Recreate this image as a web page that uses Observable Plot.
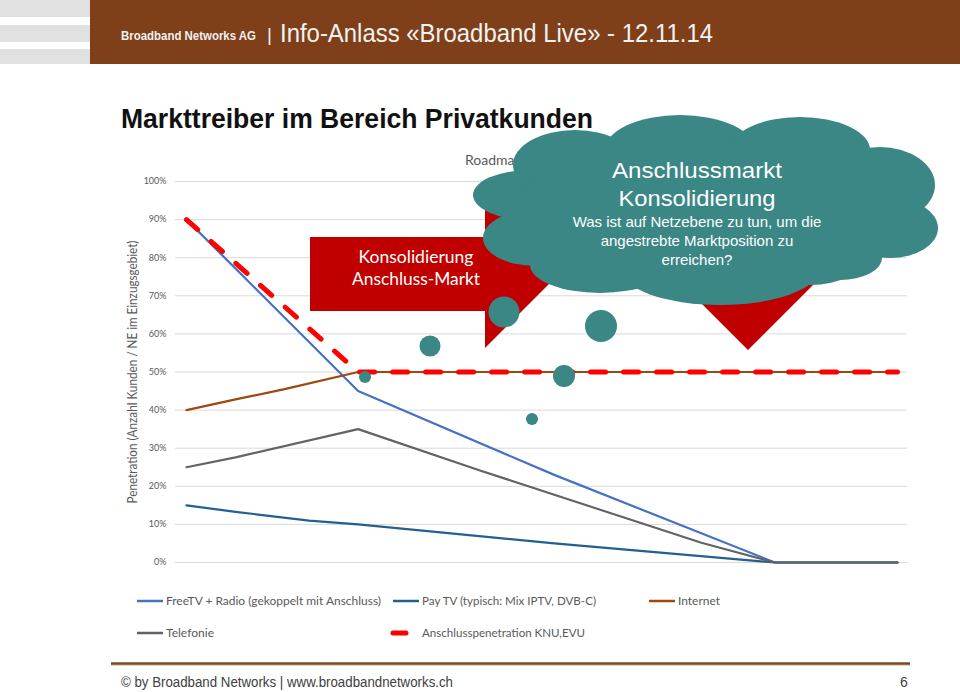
<!DOCTYPE html>
<html><head><meta charset="utf-8">
<script src="https://cdn.jsdelivr.net/npm/d3@7"></script>
<script src="https://cdn.jsdelivr.net/npm/@observablehq/plot@0.6"></script>
<style>
html,body{margin:0;padding:0;background:#fff;}
#slide{position:relative;width:960px;height:692px;overflow:hidden;background:#fff;}
#slide > svg{position:absolute;left:0;top:0;}
</style></head>
<body><div id="slide"></div>
<script>
// ---------- data ----------
const seriesNames = [
  "FreeTV + Radio (gekoppelt mit Anschluss)",
  "Pay TV (typisch: Mix IPTV, DVB-C)",
  "Internet",
  "Telefonie",
  "Anschlusspenetration KNU,EVU"
];
const seriesColors = ["#4472c4", "#255e91", "#9e480e", "#636363", "#ff0000"];

const freeTvYears   = [2011, 2018, 2026, 2035, 2040];
const freeTvValues  = [90, 45, 23, 0, 0];
const payTvYears    = [2011, 2013, 2016, 2018, 2026, 2035, 2040];
const payTvValues   = [15, 13.3, 11, 10, 5, 0, 0];
const internetYears = [2011, 2013, 2015, 2018, 2040];
const internetValues= [40, 42.8, 45.5, 50, 50];
const telYears      = [2011, 2013, 2018, 2023, 2028, 2032, 2035, 2040];
const telValues     = [25, 27.6, 35, 24.1, 13.6, 5.2, 0, 0];
const knuYears      = [2011, 2018, 2040];
const knuValues     = [90, 50, 50];

const yTicks = [0, 10, 20, 30, 40, 50, 60, 70, 80, 90, 100];

const headerCompany = "Broadband Networks AG";
const headerTitle = "Info-Anlass «Broadband Live» - 12.11.14";
const slideTitle = "Markttreiber im Bereich Privatkunden";
const chartTitle = "Roadmap Privatkunden";
const yLabel = "Penetration (Anzahl Kunden / NE im Einzugsgebiet)";
const calloutLines = ["Konsolidierung", "Anschluss-Markt"];
const cloudHead = ["Anschlussmarkt", "Konsolidierung"];
const cloudBody = ["Was ist auf Netzebene zu tun, um die", "angestrebte Marktposition zu", "erreichen?"];
const footerText = "© by Broadband Networks | www.broadbandnetworks.ch";
const pageNumber = "6";

// ---------- build rows ----------
const toRows = (name, xs, vs) => xs.map((x, i) => ({series: name, year: x, value: vs[i]}));
const freeTv = toRows(seriesNames[0], freeTvYears, freeTvValues);
const payTv = toRows(seriesNames[1], payTvYears, payTvValues);
const internet = toRows(seriesNames[2], internetYears, internetValues);
const tel = toRows(seriesNames[3], telYears, telValues);
const knu = toRows(seriesNames[4], knuYears, knuValues);

const slide = document.getElementById("slide");

const chart = Plot.plot({
  width: 960, height: 692,
  marginLeft: 175, marginRight: 53, marginTop: 181, marginBottom: 130,
  style: {fontFamily: "Lato, sans-serif", fontSize: "9px", color: "#595959", background: "transparent"},
  x: {domain: [2011, 2040], insetLeft: 11, insetRight: 10, axis: null},
  y: {domain: [0, 100], ticks: yTicks, tickSize: 0, tickPadding: 9, tickFormat: d => d + "%", label: null},
  marks: [
    Plot.ruleY(yTicks, {stroke: "#d9d9d9", strokeWidth: 1}),
    Plot.line(freeTv, {x: "year", y: "value", stroke: seriesColors[0], strokeWidth: 2.2}),
    Plot.line(payTv, {x: "year", y: "value", stroke: seriesColors[1], strokeWidth: 2.2}),
    Plot.line(internet, {x: "year", y: "value", stroke: seriesColors[2], strokeWidth: 2.2}),
    Plot.line(tel, {x: "year", y: "value", stroke: seriesColors[3], strokeWidth: 2.2}),
    Plot.line(knu, {x: "year", y: "value", stroke: seriesColors[4], strokeWidth: 5, strokeDasharray: "15,18", strokeLinecap: "round"})
  ]
});
slide.appendChild(chart);

// ---------- overlay (slide decoration, annotations, legend) ----------
const svg = d3.select(slide).append("svg").attr("width", 960).attr("height", 692)
  .style("pointer-events", "none");

// header
[[0, 17], [25, 17], [49, 15]].forEach(([y, h]) =>
  svg.append("rect").attr("x", 0).attr("y", y).attr("width", 90).attr("height", h).attr("fill", "#e1e1e1"));
svg.append("rect").attr("x", 90).attr("y", 0).attr("width", 870).attr("height", 64).attr("fill", "#7e3f19");
svg.append("text").text(headerCompany).attr("x", 121).attr("y", 40)
  .attr("font-family", "Liberation Sans, Arial, sans-serif").attr("font-weight", "bold").attr("font-size", 12)
  .attr("fill", "#f2f2f2").attr("textLength", 135).attr("lengthAdjust", "spacingAndGlyphs");
svg.append("text").text("|").attr("x", 267).attr("y", 41)
  .attr("font-family", "Liberation Sans, Arial, sans-serif").attr("font-size", 19).attr("fill", "#f2f2f2");
svg.append("text").text(headerTitle).attr("x", 280).attr("y", 42)
  .attr("font-family", "Liberation Sans, Arial, sans-serif").attr("font-size", 25)
  .attr("fill", "#f2f2f2").attr("textLength", 433).attr("lengthAdjust", "spacingAndGlyphs");

// slide title
svg.append("text").text(slideTitle).attr("x", 121).attr("y", 128)
  .attr("font-family", "Liberation Sans, Arial, sans-serif").attr("font-weight", "bold").attr("font-size", 27)
  .attr("fill", "#111").attr("textLength", 472).attr("lengthAdjust", "spacingAndGlyphs");

// chart title (mostly hidden by cloud)
svg.append("text").text(chartTitle).attr("x", 465).attr("y", 165)
  .attr("font-family", "Lato, sans-serif").attr("font-size", 14).attr("fill", "#595959");

// y axis label
svg.append("text").text(yLabel)
  .attr("transform", "translate(137,372) rotate(-90)").attr("text-anchor", "middle")
  .attr("font-family", "Lato, sans-serif").attr("font-size", 12.5).attr("fill", "#595959")
  .attr("textLength", 263).attr("lengthAdjust", "spacingAndGlyphs");

// red callouts
svg.append("polygon")
  .attr("points", "310,237 485,237 485,200 633,200 485,348 485,311 310,311")
  .attr("fill", "#c00000");
svg.append("polygon")
  .attr("points", "645,247 851,247 748,350")
  .attr("fill", "#c00000");
calloutLines.forEach((t, i) => svg.append("text").text(t).attr("x", 416).attr("y", 263 + i * 22)
  .attr("text-anchor", "middle").attr("font-family", "Lato, sans-serif").attr("font-size", 16.5)
  .attr("fill", "#fff").attr("textLength", i ? 128 : 115).attr("lengthAdjust", "spacingAndGlyphs"));

// cloud
const teal = "#3a8786";
const cloud = svg.append("g").attr("fill", teal);
[
  [575, 165, 62, 35], [680, 150, 75, 35], [800, 150, 70, 33], [880, 185, 55, 38],
  [890, 228, 48, 30], [840, 258, 42, 22], [530, 195, 57, 25], [535, 238, 52, 28],
  [600, 265, 70, 28], [720, 268, 100, 37], [810, 255, 55, 30], [705, 210, 190, 70]
].forEach(([cx, cy, rx, ry]) => cloud.append("ellipse")
  .attr("cx", cx).attr("cy", cy).attr("rx", rx).attr("ry", ry));
cloudHead.forEach((t, i) => svg.append("text").text(t).attr("x", 697).attr("y", 178 + i * 28)
  .attr("text-anchor", "middle").attr("font-family", "Liberation Sans, Arial, sans-serif")
  .attr("font-size", 22).attr("fill", "#fff")
  .attr("textLength", i ? 157 : 170).attr("lengthAdjust", "spacingAndGlyphs"));
cloudBody.forEach((t, i) => svg.append("text").text(t).attr("x", 697).attr("y", 227 + i * 19)
  .attr("text-anchor", "middle").attr("font-family", "Liberation Sans, Arial, sans-serif")
  .attr("font-size", 15).attr("fill", "#fff"));

// thought bubbles
[[365, 377, 6], [430, 346, 10.5], [504, 312, 15.5], [532, 419, 6], [564, 376, 11], [601, 326, 16]]
  .forEach(([cx, cy, r]) => svg.append("circle").attr("cx", cx).attr("cy", cy).attr("r", r).attr("fill", teal));

// legend
const legendItems = [
  {i: 0, x: 137, y: 601, w: 215},
  {i: 1, x: 393, y: 601, w: 174},
  {i: 2, x: 649, y: 601, w: 42},
  {i: 3, x: 137, y: 633, w: 48},
  {i: 4, x: 391, y: 633, w: 163}
];
legendItems.forEach(({i, x, y, w}) => {
  if (i === 4) {
    svg.append("line").attr("x1", x + 2).attr("x2", x + 15).attr("y1", y).attr("y2", y)
      .attr("stroke", seriesColors[i]).attr("stroke-width", 5).attr("stroke-linecap", "round");
  } else {
    svg.append("line").attr("x1", x).attr("x2", x + 26).attr("y1", y).attr("y2", y)
      .attr("stroke", seriesColors[i]).attr("stroke-width", 2.5);
  }
  svg.append("text").text(seriesNames[i]).attr("x", i === 4 ? 422 : x + 29).attr("y", y + 4)
    .attr("font-family", "Lato, sans-serif").attr("font-size", 11).attr("fill", "#595959")
    .attr("textLength", w).attr("lengthAdjust", "spacingAndGlyphs");
});

// footer
svg.append("line").attr("x1", 111).attr("x2", 910).attr("y1", 665).attr("y2", 665)
  .attr("stroke", "#b0a89f").attr("stroke-width", 1);
svg.append("line").attr("x1", 111).attr("x2", 910).attr("y1", 663.5).attr("y2", 663.5)
  .attr("stroke", "#7f4a1f").attr("stroke-width", 2.5);
svg.append("text").text(footerText).attr("x", 121).attr("y", 687)
  .attr("font-family", "Liberation Sans, Arial, sans-serif").attr("font-size", 14).attr("fill", "#404040")
  .attr("textLength", 332).attr("lengthAdjust", "spacingAndGlyphs");
svg.append("text").text(pageNumber).attr("x", 900).attr("y", 687)
  .attr("font-family", "Liberation Sans, Arial, sans-serif").attr("font-size", 14).attr("fill", "#404040");
</script>
</body></html>
